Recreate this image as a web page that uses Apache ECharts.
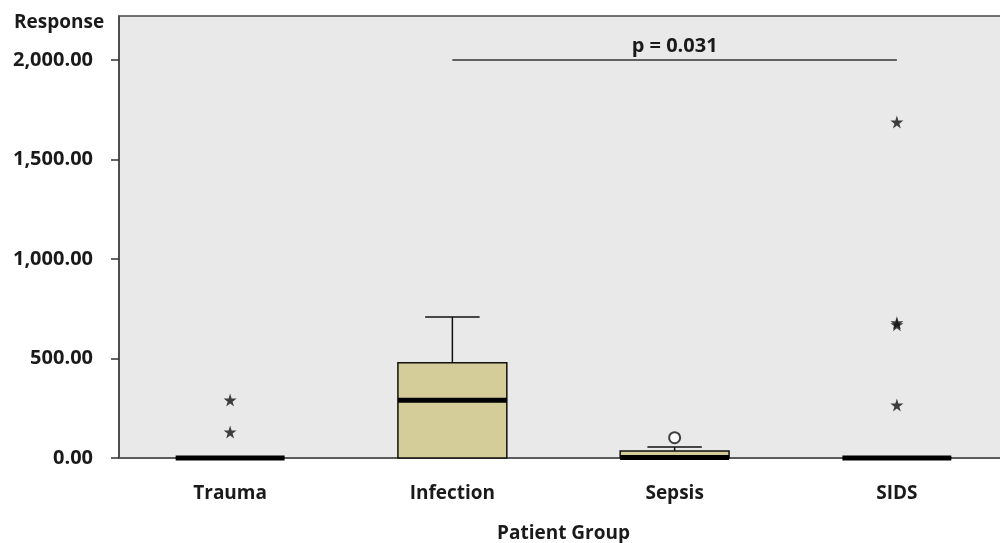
<!DOCTYPE html>
<html>
<head>
<meta charset="utf-8">
<script src="https://cdn.jsdelivr.net/npm/echarts@6/dist/echarts.min.js"></script>
<style>
  html, body { margin: 0; padding: 0; background: #fff; }
  #chart { width: 1000px; height: 543px; }
</style>
</head>
<body>
<div id="chart"></div>
<script>
// groups on x axis
const groups = ['Trauma', 'Infection', 'Sepsis', 'SIDS'];
// [min, q1, median, q3, max] per group
const boxStats = [
  [0, 0, 0, 0, 0],
  [0, 0, 290, 478, 708],
  [0, 0, 3, 35, 55],
  [0, 0, 0, 0, 0]
];
// extreme outliers (stars): [group, value]
const extremes = [
  ['Trauma', 291], ['Trauma', 131],
  ['SIDS', 1688], ['SIDS', 680], ['SIDS', 670], ['SIDS', 266]
];
// mild outliers (circles)
const outliers = [['Sepsis', 102]];
const yTicks = [0, 500, 1000, 1500, 2000];
const pText = 'p = 0.031';

const starPath = 'path://M50,0 L61,35 L98,35 L68,57 L79,91 L50,70 L21,91 L32,57 L2,35 L39,35 Z';
const font = '"Open Sans", "Noto Sans", sans-serif';

const chart = echarts.init(document.getElementById('chart'));

// box + whiskers drawn with the axis scales
function renderBox(params, api) {
  const idx = api.value(0);
  const pMin = api.coord([idx, api.value(1)]);
  const pQ1 = api.coord([idx, api.value(2)]);
  const pMed = api.coord([idx, api.value(3)]);
  const pQ3 = api.coord([idx, api.value(4)]);
  const pMax = api.coord([idx, api.value(5)]);
  const bw = api.size([1, 0])[0] * 0.49;
  const x = pMed[0];
  const line = { stroke: '#111', lineWidth: 1.5 };
  const kids = [];
  if (pMax[1] < pQ3[1]) {
    kids.push({ type: 'line', shape: { x1: x, y1: pQ3[1], x2: x, y2: pMax[1] }, style: line });
    kids.push({ type: 'line', shape: { x1: x - bw / 4, y1: pMax[1], x2: x + bw / 4, y2: pMax[1] }, style: line });
  }
  if (pMin[1] > pQ1[1]) {
    kids.push({ type: 'line', shape: { x1: x, y1: pQ1[1], x2: x, y2: pMin[1] }, style: line });
    kids.push({ type: 'line', shape: { x1: x - bw / 4, y1: pMin[1], x2: x + bw / 4, y2: pMin[1] }, style: line });
  }
  kids.push({
    type: 'rect',
    shape: { x: x - bw / 2, y: pQ3[1], width: bw, height: Math.max(pQ1[1] - pQ3[1], 0) },
    style: { fill: '#d5cd99', stroke: '#111', lineWidth: 1.5 }
  });
  kids.push({
    type: 'line',
    shape: { x1: x - bw / 2, y1: pMed[1], x2: x + bw / 2, y2: pMed[1] },
    style: { stroke: '#000', lineWidth: 5 }
  });
  return { type: 'group', children: kids };
}

chart.setOption({
  backgroundColor: '#fff',
  animation: false,
  title: {
    text: 'Response',
    left: 9, top: 8,
    textStyle: { fontFamily: font, fontSize: 19, fontWeight: 'bold', color: '#1a1a1a' }
  },
  grid: {
    left: 119, top: 16, right: -8, height: 442,
    outerBoundsMode: 'none',
    show: true, backgroundColor: '#e9e9e9', borderColor: '#444', borderWidth: 1.5
  },
  xAxis: {
    type: 'category',
    data: groups,
    name: 'Patient Group',
    nameLocation: 'middle',
    nameGap: 66,
    nameTextStyle: { fontFamily: font, fontSize: 19, fontWeight: 'bold', color: '#1a1a1a' },
    axisLine: { lineStyle: { color: '#555', width: 1.5 } },
    axisTick: { alignWithLabel: true, length: 10, lineStyle: { color: '#333', width: 1.5 } },
    axisLabel: { margin: 26, fontFamily: font, fontSize: 19, fontWeight: 'bold', color: '#1a1a1a' }
  },
  yAxis: {
    type: 'value',
    min: 0, max: 2221,
    splitLine: { show: false },
    axisLine: { show: true, onZero: false, lineStyle: { color: '#444', width: 1.5 } },
    axisTick: { show: true, length: 8, customValues: yTicks, lineStyle: { color: '#333', width: 1.5 } },
    axisLabel: {
      customValues: yTicks,
      margin: 26,
      fontFamily: font, fontSize: 20, fontWeight: 'bold', color: '#1a1a1a',
      formatter: v => v.toLocaleString('en-US', { minimumFractionDigits: 2, maximumFractionDigits: 2 })
    }
  },
  series: [
    {
      type: 'custom',
      renderItem: renderBox,
      encode: { x: 0, y: [1, 2, 3, 4, 5] },
      data: boxStats.map((s, i) => [i].concat(s)),
      z: 3
    },
    {
      type: 'scatter',
      symbol: starPath,
      symbolSize: 13,
      itemStyle: { color: '#111' },
      data: extremes,
      z: 4,
      markLine: {
        silent: true,
        symbol: 'none',
        lineStyle: { color: '#333', width: 1.5, type: 'solid' },
        label: {
          show: true, position: 'middle', distance: 4,
          formatter: pText,
          fontFamily: font, fontSize: 20, fontWeight: 'bold', color: '#1a1a1a'
        },
        data: [[{ coord: ['Infection', 2000] }, { coord: ['SIDS', 2000] }]]
      }
    },
    {
      type: 'scatter',
      symbol: 'emptyCircle',
      symbolSize: 11,
      itemStyle: { color: '#111', borderColor: '#111', borderWidth: 1.5 },
      data: outliers,
      z: 4
    }
  ]
});
</script>
</body>
</html>
